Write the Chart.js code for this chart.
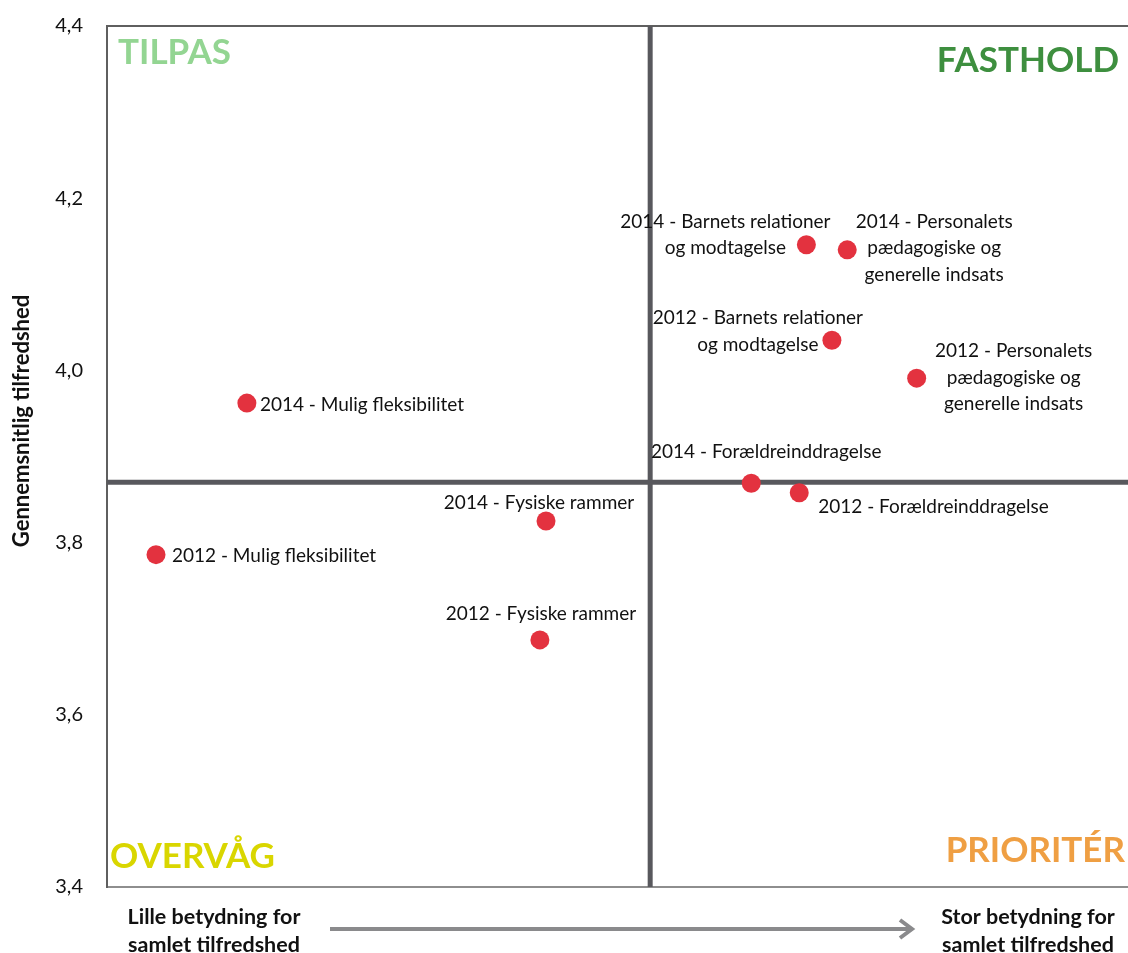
<!DOCTYPE html>
<html><head><meta charset="utf-8">
<script src="https://cdn.jsdelivr.net/npm/chart.js@4/dist/chart.umd.min.js"></script>
<style>html,body{margin:0;padding:0;background:#fff}#wrap{width:1128px;height:953px}</style>
</head><body><div id="wrap"><canvas id="c" width="1128" height="953"></canvas></div>
<script>
const categories = [
  ["2014 - Mulig fleksibilitet"],
  ["2012 - Mulig fleksibilitet"],
  ["2014 - Fysiske rammer"],
  ["2012 - Fysiske rammer"],
  ["2014 - Forældreinddragelse"],
  ["2012 - Forældreinddragelse"],
  ["2014 - Barnets relationer", "og modtagelse"],
  ["2014 - Personalets", "pædagogiske og", "generelle indsats"],
  ["2012 - Barnets relationer", "og modtagelse"],
  ["2012 - Personalets", "pædagogiske og", "generelle indsats"]
];
const importance = [13.7, 4.8, 43.0, 42.4, 63.1, 67.8, 68.5, 72.5, 71.0, 79.3];
const satisfaction = [3.962, 3.786, 3.825, 3.687, 3.869, 3.858, 4.146, 4.140, 4.035, 3.991];
const yTicks = [3.4, 3.6, 3.8, 4.0, 4.2, 4.4];
const xDivider = 53.2;
const yDivider = 3.870;
const quadrantNames = ["TILPAS", "FASTHOLD", "OVERVÅG", "PRIORITÉR"];
const yTitle = "Gennemsnitlig tilfredshed";
const leftNote = ["Lille betydning for", "samlet tilfredshed"];
const rightNote = ["Stor betydning for", "samlet tilfredshed"];

// label placement (style, not data)
const placements = [
  {dx: 13, dy: 2, align: "left"},
  {dx: 16, dy: 1, align: "left"},
  {dx: -7, dy: -18, align: "center"},
  {dx: 1, dy: -26, align: "center"},
  {dx: 15, dy: -31, align: "center"},
  {dx: 19, dy: 14, align: "left"},
  {dx: -81, dy: -23, align: "center"},
  {dx: 87, dy: -28, align: "center"},
  {dx: -74, dy: -22, align: "center"},
  {dx: 97, dy: -27, align: "center"}
];

const FONT = "Lato, 'Open Sans', sans-serif";

const decor = {
  id: "decor",
  beforeDatasetsDraw(chart) {
    const {ctx, chartArea: a, scales: {x, y}} = chart;
    ctx.save();
    ctx.strokeStyle = "#5f5f5f"; ctx.lineWidth = 2;
    ctx.beginPath(); ctx.moveTo(a.left, a.top); ctx.lineTo(a.right, a.top); ctx.stroke();
    ctx.strokeStyle = "#58585d"; ctx.lineWidth = 5;
    const vx = x.getPixelForValue(xDivider), hy = y.getPixelForValue(yDivider);
    ctx.beginPath(); ctx.moveTo(vx, a.top); ctx.lineTo(vx, a.bottom); ctx.stroke();
    ctx.beginPath(); ctx.moveTo(a.left, hy); ctx.lineTo(a.right, hy); ctx.stroke();
    ctx.restore();
  },
  afterDatasetsDraw(chart) {
    const {ctx, chartArea: a} = chart;
    const meta = chart.getDatasetMeta(0);
    ctx.save();
    ctx.fillStyle = "#111";
    ctx.font = "19px " + FONT;
    ctx.textBaseline = "middle";
    meta.data.forEach((pt, i) => {
      const p = placements[i];
      ctx.textAlign = p.align;
      categories[i].forEach((line, j) => {
        ctx.fillText(line, pt.x + p.dx, pt.y + p.dy + j * 26.5);
      });
    });
    ctx.font = "bold 35px " + FONT;
    ctx.textBaseline = "middle";
    ctx.textAlign = "left"; ctx.fillStyle = "#93d592";
    ctx.fillText(quadrantNames[0], a.left + 11, a.top + 27);
    ctx.textAlign = "right"; ctx.fillStyle = "#3e8f3f";
    ctx.fillText(quadrantNames[1], a.right - 9, a.top + 35);
    ctx.textAlign = "left"; ctx.fillStyle = "#d9d600";
    ctx.fillText(quadrantNames[2], a.left + 3, a.bottom - 30);
    ctx.textAlign = "right"; ctx.fillStyle = "#ef9f43";
    ctx.fillText(quadrantNames[3], a.right - 3, a.bottom - 36);
    ctx.save();
    ctx.translate(22, 421);
    ctx.rotate(-Math.PI / 2);
    ctx.textAlign = "center"; ctx.textBaseline = "middle";
    ctx.fillStyle = "#111"; ctx.font = "bold 22px " + FONT;
    ctx.fillText(yTitle, 0, 0);
    ctx.restore();
    ctx.fillStyle = "#111"; ctx.font = "bold 21.5px " + FONT;
    ctx.textAlign = "center"; ctx.textBaseline = "middle";
    leftNote.forEach((l, j) => ctx.fillText(l, a.left + 107, a.bottom + 30 + j * 28));
    rightNote.forEach((l, j) => ctx.fillText(l, a.right - 100, a.bottom + 30 + j * 28));
    const ay = a.bottom + 42, x0 = a.left + 223, x1 = a.right - 216;
    ctx.strokeStyle = "#8a8a8c"; ctx.lineWidth = 4; ctx.lineCap = "butt";
    ctx.beginPath(); ctx.moveTo(x0, ay); ctx.lineTo(x1 - 3, ay); ctx.stroke();
    ctx.lineJoin = "miter";
    ctx.beginPath(); ctx.moveTo(x1 - 12, ay - 9); ctx.lineTo(x1, ay); ctx.lineTo(x1 - 12, ay + 9); ctx.stroke();
    ctx.restore();
  }
};

new Chart(document.getElementById("c"), {
  type: "scatter",
  data: {
    datasets: [{
      data: importance.map((v, i) => ({x: v, y: satisfaction[i]})),
      backgroundColor: "#e3323f",
      borderWidth: 0,
      pointRadius: 9.5,
      pointHoverRadius: 9.5
    }]
  },
  options: {
    responsive: false,
    animation: false,
    events: [],
    layout: {autoPadding: false, padding: {top: 26, right: 0, left: 0, bottom: 0}},
    plugins: {legend: {display: false}, tooltip: {enabled: false}},
    scales: {
      x: {
        type: "linear", min: 0, max: 100,
        grid: {display: false, drawTicks: false},
        border: {display: true, color: "#8e8e8e", width: 2},
        ticks: {display: false},
        afterFit(s) { s.height = 66; s.paddingLeft = 0; s.paddingRight = 0; }
      },
      y: {
        type: "linear", min: 3.4, max: 4.4,
        grid: {display: false, drawTicks: false},
        border: {display: true, color: "#5f5f5f", width: 2},
        afterBuildTicks(s) { s.ticks = yTicks.map(v => ({value: v})); },
        ticks: {
          color: "#111", padding: 24,
          font: {family: FONT, size: 20},
          callback: v => v.toFixed(1).replace(".", ",")
        },
        afterFit(s) { s.width = 107; s.paddingTop = 0; s.paddingBottom = 0; }
      }
    }
  },
  plugins: [decor]
});
</script>
</body></html>
